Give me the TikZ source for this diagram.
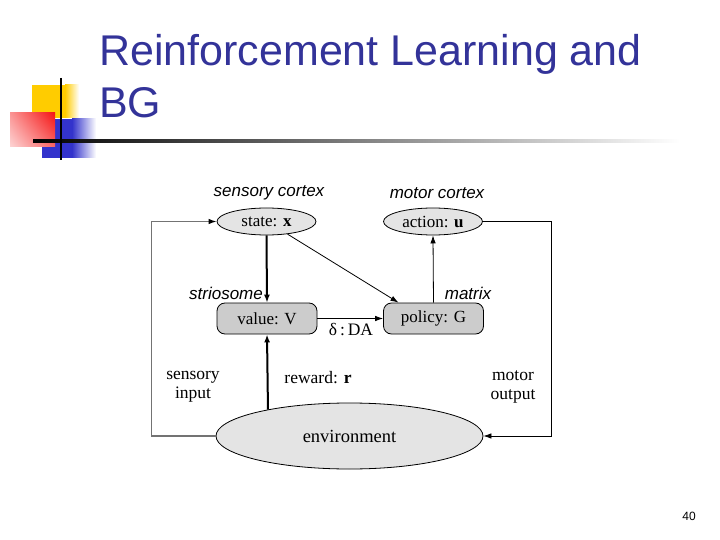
\documentclass[tikz,border=0pt]{standalone}
\usepackage{fontspec}
\setmainfont{Liberation Serif}
\setsansfont{Liberation Sans}
\usetikzlibrary{arrows.meta,shapes.geometric,shadings}
\definecolor{titleblue}{RGB}{51,51,153}
\definecolor{decoyellow}{RGB}{255,204,0}
\definecolor{decored}{RGB}{245,20,20}
\definecolor{decoblue}{RGB}{51,51,204}
\definecolor{ellfill}{RGB}{228,228,228}
\definecolor{boxfill}{RGB}{204,204,204}
\tikzset{
  titletext/.style={inner sep=0pt, anchor=base west, text=titleblue, font=\sffamily\fontsize{43}{50}\selectfont},
  ellnode/.style={ellipse, draw=black, line width=0.8pt, fill=ellfill, inner sep=0pt, font=\fontsize{17}{20}\selectfont},
  boxnode/.style={rectangle, rounded corners=8pt, draw=black, line width=0.8pt, fill=boxfill, inner sep=0pt, minimum width=100pt, minimum height=31pt, font=\fontsize{17}{20}\selectfont},
  itlabel/.style={inner sep=0pt, font=\sffamily\itshape\fontsize{17}{19}\selectfont},
  rmlabel/.style={inner sep=0pt, align=center, font=\fontsize{17.5}{19}\selectfont},
  thinarrow/.style={line width=0.8pt, -{Latex[length=8pt,width=5.5pt]}},
  thickarrow/.style={line width=2pt, -{Latex[length=8pt,width=6pt]}},
  grayarrow/.style={line width=1.2pt, draw=black!55, -{Latex[length=8pt,width=5.5pt,fill=black,color=black]}},
}
\begin{document}
\begin{tikzpicture}[x=1pt,y=-1pt]
\useasboundingbox (0,0) rectangle (720,540);
\fill[white] (0,0) rectangle (720,540);
% decoration
\fill[decoyellow] (32,85) rectangle (65,118);
\shade[left color=decoyellow, right color=white] (65,85) rectangle (79,118);
\fill[decoblue] (42,119) rectangle (72,158);
\shade[left color=decoblue, right color=white] (72,119) rectangle (96,158);
\shade[upper left=decored!45, upper right=decored, lower left=decored!18, lower right=decored!65] (10,113) rectangle (55,147);
\shade[left color=black, right color=white] (33,139.7) rectangle (680,142.5);
\draw[line width=2pt, black] (61,78) -- (61,160);
% title
\node[titletext] (title1) at (99,66) {Reinforcement Learning and};
\node[titletext] (title2) at (99,118) {BG};
% page number
\node[inner sep=0pt, font=\sffamily\fontsize{12}{14}\selectfont] (pagenum) at (689,516) {40};
% diagram nodes
\node[ellnode, minimum width=99pt, minimum height=27pt] (state) at (266.5,221.5) {state: \textbf{x}};
\node[ellnode, minimum width=99pt, minimum height=27pt] (action) at (433,221.5) {action: \textbf{u}};
\node[boxnode] (value) at (267,318.5) {value: V};
\node[boxnode] (policy) at (433.5,318.5) {policy: G};
\node[ellnode, minimum width=267pt, minimum height=66pt, font=\fontsize{18.5}{20}\selectfont] (env) at (349.5,436) {environment};
% labels
\node[itlabel] (lsens) at (269,193) {sensory cortex};
\node[itlabel] (lmot) at (437,193) {motor cortex};
\node[itlabel] (lstrio) at (226,293) {striosome};
\node[itlabel] (lmatrix) at (468,293) {matrix};
\node[rmlabel] (ldelta) at (351,330) {δ\,:\,DA};
\node[rmlabel] (lreward) at (318,378) {reward: \textbf{r}};
\node[rmlabel] (lsensin) at (193,387) {sensory\\input};
\node[rmlabel] (lmotout) at (513,387) {motor\\output};
% connectors
\draw[thickarrow] (state.south) -- (value.north);
\draw[thinarrow] (state.-31) -- ([xshift=-35pt]policy.north);
\draw[thinarrow] (policy.north) -- (action.south);
\draw[thinarrow] (value.east) -- (policy.west);
\draw[thickarrow] (env.162.6) -- (value.south);
\draw[thinarrow] (action.east) -- ++(68,0) |- (env.east);
\draw[grayarrow] (env.west) -- ++(-64,0) |- (state.west);
\end{tikzpicture}
\end{document}
